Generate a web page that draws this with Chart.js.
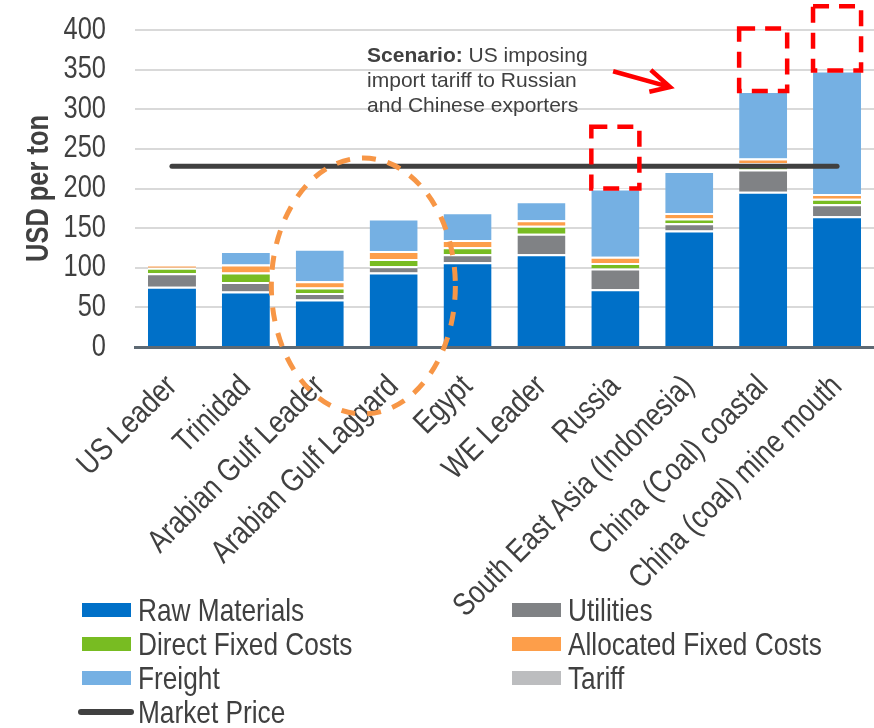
<!DOCTYPE html>
<html>
<head>
<meta charset="utf-8">
<script src="https://cdn.jsdelivr.net/npm/chart.js@4.4.0/dist/chart.umd.min.js"></script>
<style>
  body { margin: 0; background: #fff; }
  #wrap { position: relative; width: 874px; height: 728px; overflow: hidden; }
  #chart { position: absolute; left: 0; top: 0; }
  .item { position: absolute; color: #404040; white-space: nowrap; line-height: 32px;
          font: 32px "Liberation Sans", Arial, sans-serif; transform: scaleX(0.82); transform-origin: 0 50%; }
  .sw { position: absolute; width: 49px; height: 14px; }
</style>
</head>
<body>
<div id="wrap">
  <canvas id="chart" width="874" height="728"></canvas>
  <div id="legend"></div>
</div>
<script>
var categories = ["US Leader", "Trinidad", "Arabian Gulf Leader", "Arabian Gulf Laggard", "Egypt",
  "WE Leader", "Russia", "South East Asia (Indonesia)", "China (Coal) coastal", "China (coal) mine mouth"];
var rawMaterials   = [76, 70, 60, 94, 107, 117, 73, 147, 196, 165];
var utilities      = [17, 12,  8,  8,  10,  26, 26,   9,  28,  15];
var directFixed    = [ 7, 12,  7,  9,   9,  10,  7,   6,   8,   7];
var allocatedFixed = [ 3, 10,  8, 10,   9,   7,  8,   7,   6,   6];
var freight        = [ 0, 17, 41, 41,  35,  24, 86,  53,  85, 156];
var tariff         = [ 0,  0,  0,  0,   0,   0, 78,   0,  79,  81];
var marketPrice    = [228, 228, 228, 228, 228, 228, 228, 228, 228, 228];
var yTicks = [0, 50, 100, 150, 200, 250, 300, 350, 400];

var fam = '"Liberation Sans", Arial, sans-serif';
var colors = {
  raw: '#0070c8', util: '#808285', dfc: '#78bc22', afc: '#fd9e4a',
  freight: '#75b0e3', tariff: '#bcbdbf', price: '#404040'
};

// the original uses a narrow face (Arial Narrow); squeeze Liberation Sans to the same width
var canvas = document.getElementById('chart');
var ctx2d = canvas.getContext('2d');
var squeeze = true;
var rawFillText = ctx2d.fillText;
ctx2d.fillText = function (text, x, y, maxWidth) {
  if (!squeeze) return rawFillText.call(this, text, x, y, maxWidth);
  this.save();
  this.translate(x, y);
  this.scale(0.82, 1);
  rawFillText.call(this, text, 0, 0);
  this.restore();
};

function barSet(label, data, color) {
  return {
    label: label, data: data, backgroundColor: color,
    borderColor: '#ffffff', borderWidth: {top: 2, left: 0, right: 0, bottom: 0},
    stack: 'cost', order: 1, barPercentage: 0.65, categoryPercentage: 1.0
  };
}

var datasets = [
  barSet('Raw Materials', rawMaterials, colors.raw),
  barSet('Utilities', utilities, colors.util),
  barSet('Direct Fixed Costs', directFixed, colors.dfc),
  barSet('Allocated Fixed Costs', allocatedFixed, colors.afc),
  barSet('Freight', freight, colors.freight),
  barSet('Tariff', tariff, 'rgba(0,0,0,0)'),
  {
    type: 'line', label: 'Market Price', data: marketPrice, stack: 'price', order: 0,
    borderColor: colors.price, borderWidth: 5, borderCapStyle: 'round',
    pointRadius: 0, fill: false
  }
];
var tariffIndex = 5;

// dashed tariff boxes, scenario note, arrow and the dashed ellipse
var overlay = {
  id: 'overlay',
  afterDatasetsDraw: function (chart) {
    var ctx = chart.ctx, xs = chart.scales.x, ys = chart.scales.y;
    var px = function (i) { return xs.getPixelForValue(i); };
    var py = function (v) { return ys.getPixelForValue(v); };
    var step = px(1) - px(0);
    var unit = py(0) - py(1);

    ctx.save();
    ctx.strokeStyle = '#ff0000';
    ctx.lineWidth = 4.5;
    ctx.setLineDash([16, 10]);
    chart.getDatasetMeta(tariffIndex).data.forEach(function (bar, i) {
      if (!tariff[i]) return;
      var p = bar.getProps(['x', 'y', 'base', 'width'], true);
      ctx.strokeRect(p.x - p.width / 2, p.y, p.width, p.base - p.y);
    });
    ctx.restore();

    ctx.save();
    ctx.strokeStyle = '#f79646';
    ctx.lineWidth = 5;
    ctx.setLineDash([14, 12]);
    ctx.beginPath();
    ctx.ellipse(px(2.59), py(77), 1.245 * step, 161.5 * unit, 0, 0, Math.PI * 2);
    ctx.stroke();
    ctx.restore();

    ctx.save();
    ctx.strokeStyle = '#ff0000';
    ctx.lineWidth = 4.5;
    ctx.beginPath();
    ctx.moveTo(px(5.97), py(348));
    ctx.lineTo(px(6.74), py(328));
    ctx.moveTo(px(6.48), py(349.5));
    ctx.lineTo(px(6.74), py(328));
    ctx.lineTo(px(6.46), py(322));
    ctx.stroke();
    ctx.restore();

    squeeze = false;
    ctx.save();
    ctx.fillStyle = '#404040';
    ctx.textBaseline = 'alphabetic';
    ctx.textAlign = 'left';
    var tx = px(2.64);
    ctx.font = 'bold 21px "Liberation Sans"';
    ctx.fillText('Scenario:', tx, py(359.6));
    var w = ctx.measureText('Scenario: ').width;
    ctx.font = '21px "Liberation Sans"';
    ctx.fillText('US imposing', tx + w, py(359.6));
    ctx.fillText('import tariff to Russian', tx, py(328));
    ctx.fillText('and Chinese exporters', tx, py(296.5));
    ctx.restore();
    squeeze = true;
  }
};

new Chart(canvas, {
  type: 'bar',
  data: { labels: categories, datasets: datasets },
  options: {
    responsive: false,
    animation: false,
    layout: { padding: { top: 30, left: 0, right: 0, bottom: 0 } },
    plugins: { legend: { display: false }, tooltip: { enabled: false } },
    scales: {
      x: {
        stacked: true,
        grid: { display: false, drawTicks: false },
        border: { color: '#5d6973', width: 3 },
        ticks: {
          color: '#404040', font: { family: fam, size: 32 },
          minRotation: 45, maxRotation: 45, autoSkip: false, padding: 21
        },
        afterFit: function (s) { s.height = 728 - 347; s.paddingLeft = 0; s.paddingRight = 0; }
      },
      y: {
        stacked: true, min: 0, max: 400,
        afterBuildTicks: function (s) { s.ticks = yTicks.map(function (v) { return { value: v }; }); },
        grid: { color: '#d9d9d9', lineWidth: 2, drawTicks: false },
        border: { display: false },
        ticks: { color: '#404040', font: { family: fam, size: 31 }, padding: 29, autoSkip: false },
        title: {
          display: true, text: 'USD per ton', color: '#404040',
          font: { family: fam, size: 31, weight: 'bold' }, padding: { top: 21, bottom: 0 }
        },
        afterFit: function (s) { s.width = 135; s.paddingTop = 0; s.paddingBottom = 0; }
      }
    }
  },
  plugins: [overlay]
});

// legend in two columns
var legendItems = [
  { label: 'Raw Materials', color: colors.raw, col: 0, row: 0 },
  { label: 'Utilities', color: colors.util, col: 1, row: 0 },
  { label: 'Direct Fixed Costs', color: colors.dfc, col: 0, row: 1 },
  { label: 'Allocated Fixed Costs', color: colors.afc, col: 1, row: 1 },
  { label: 'Freight', color: colors.freight, col: 0, row: 2 },
  { label: 'Tariff', color: colors.tariff, col: 1, row: 2 },
  { label: 'Market Price', color: colors.price, col: 0, row: 3, line: true }
];
var legend = document.getElementById('legend');
legendItems.forEach(function (it) {
  var left = it.col ? 512 : 82;
  var cy = 610 + it.row * 34;
  var sw = document.createElement('div');
  sw.className = 'sw';
  sw.style.background = it.color;
  if (it.line) {
    sw.style.left = (left - 4) + 'px';
    sw.style.width = '56px';
    sw.style.height = '6px';
    sw.style.borderRadius = '3px';
    sw.style.top = (cy - 3) + 'px';
  } else {
    sw.style.left = left + 'px';
    sw.style.top = (cy - 7) + 'px';
  }
  legend.appendChild(sw);
  var t = document.createElement('div');
  t.className = 'item';
  t.textContent = it.label;
  t.style.left = (left + 56) + 'px';
  t.style.top = (cy - 18) + 'px';
  legend.appendChild(t);
});
</script>
</body>
</html>
